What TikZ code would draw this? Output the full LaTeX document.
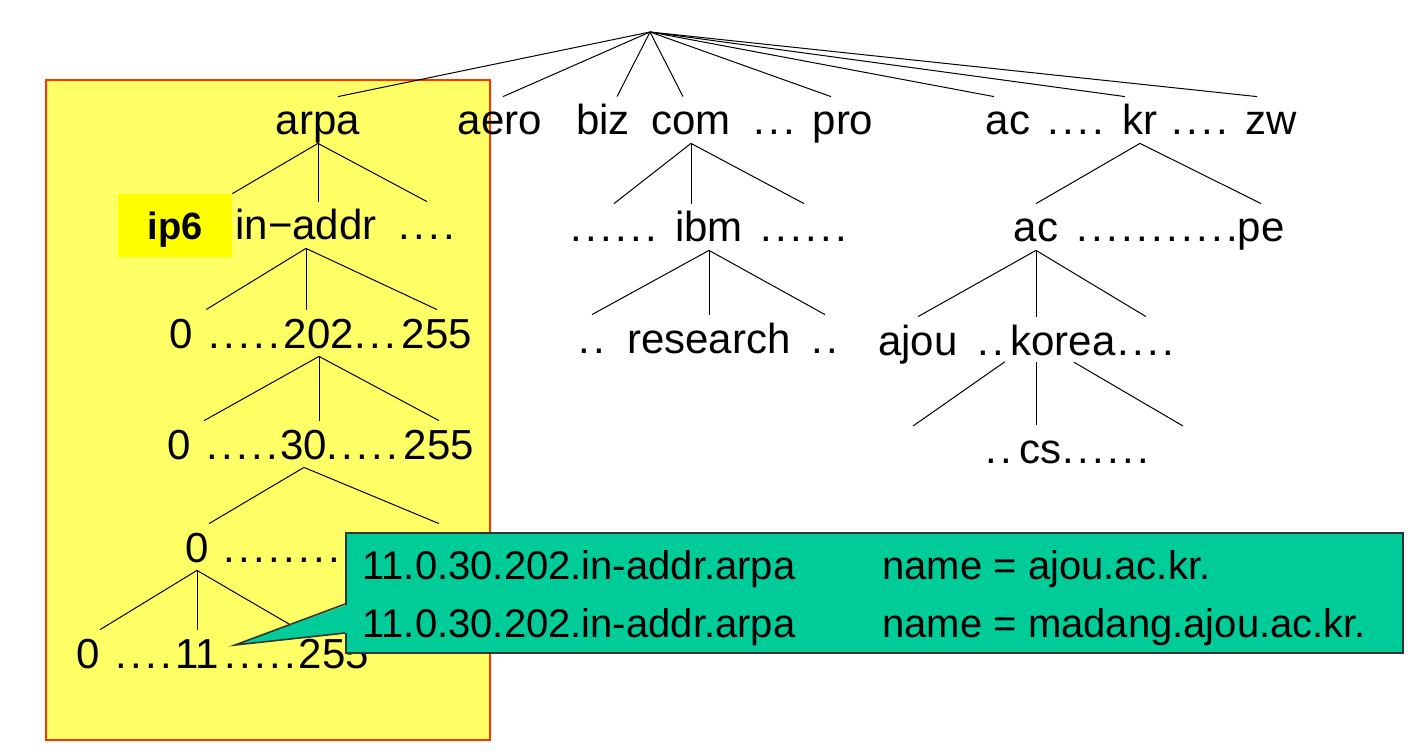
\documentclass[tikz,border=0pt]{standalone}
\usepackage{fontspec}
\setmainfont{Liberation Sans}
\definecolor{zonefill}{HTML}{FFFF66}
\definecolor{zoneline}{HTML}{FF3300}
\definecolor{ipsix}{HTML}{FFFF00}
\definecolor{notefill}{HTML}{00CC99}
\newcommand\dts[1]{\foreach \i in {1,...,#1}{\makebox[7.5pt]{.}}}
\begin{document}
\begin{tikzpicture}[x=0.5pt, y=-0.5pt,
  lbl/.style={anchor=base, inner sep=0pt, text height=19pt, text depth=4pt, font=\fontsize{21}{25}\selectfont},
  br/.style={line width=0.5pt},
  notetext/.style={anchor=base west, inner sep=0pt, font=\fontsize{20}{24}\selectfont}]
\useasboundingbox (0,0) rectangle (1424,754);
% reverse zone
\draw[fill=zonefill, draw=zoneline, line width=1pt] (46,80) rectangle (490,740);
\coordinate (root) at (650,32);
% top level domains
\node[lbl] (arpa) at (318,135) {arpa};
\node[lbl] (aero) at (500,135) {aero};
\node[lbl] (biz) at (603,135) {biz};
\node[lbl] (com) at (691,135) {com};
\node[lbl] (comdots) at (774,135) {\dts{3}};
\node[lbl] (pro) at (843,135) {pro};
\node[lbl] (ac) at (1008,135) {ac};
\node[lbl] (acdots) at (1076,135) {\dts{4}};
\node[lbl] (kr) at (1140,135) {kr};
\node[lbl] (krdots) at (1200,135) {\dts{4}};
\node[lbl] (zw) at (1271,135) {zw};
\foreach \n/\s in {arpa/10pt, aero/1.5pt, biz/7pt, com/-4pt, pro/-6pt, ac/-7pt, kr/-7.5pt, zw/-7pt}
  \draw[br] (root) -- ([xshift=\s]\n.north);
% arpa
\node[lbl, fill=ipsix, minimum width=57pt, text height=23pt, text depth=8.5pt, font=\fontsize{19}{23}\selectfont\bfseries] (ip6) at (175,240) {ip6};
\node[lbl] (inaddr) at (306,240) {in−addr};
\node[lbl] (adots) at (427,240) {\dts{4}};
\draw[br] (arpa.south) -- (ip6.north east);
\draw[br] (arpa.south) -- (arpa.south |- inaddr.north);
\draw[br] (arpa.south) -- (adots.north);
% first octet
\node[lbl] (z3) at (181,348) {0};
\node[lbl] (d3a) at (244,348) {\dts{5}};
\node[lbl] (n202) at (319,348) {202};
\node[lbl] (d3b) at (375,348) {\dts{3}};
\node[lbl] (f3) at (437,348) {255};
\draw[br] (inaddr.south) -- (d3a.north west);
\draw[br] (inaddr.south) -- (inaddr.south |- n202.north);
\draw[br] (inaddr.south) -- (f3.north);
% second octet
\node[lbl] (z4) at (179,459) {0};
\node[lbl] (d4a) at (242,459) {\dts{5}};
\node[lbl] (n30) at (304,459) {30};
\node[lbl] (d4b) at (362,459) {\dts{5}};
\node[lbl] (f4) at (439,459) {255};
\draw[br] (n202.south) -- (d4a.north west);
\draw[br] (n202.south) -- (n202.south |- n30.north);
\draw[br] (n202.south) -- (f4.north);
% third octet
\node[lbl] (z5) at (197,562) {0};
\node[lbl] (d5) at (312,562) {\dts{12}};
\node[lbl] (f5) at (439,562) {255};
\draw[br] (n30.south) -- (z5.north east);
\draw[br] (n30.south) -- (f5.north);
% fourth octet
\node[lbl] (z6) at (88,668) {0};
\node[lbl] (d6a) at (144,668) {\dts{4}};
\node[lbl] (n11) at (197,668) {11};
\node[lbl] (d6b) at (260,668) {\dts{5}};
\node[lbl] (f6) at (334,668) {255};
\draw[br] (z5.south) -- (z6.north east);
\draw[br] (z5.south) -- (z5.south |- n11.north);
\draw[br] (z5.south) -- (f6.north west);
% com
\node[lbl] (ldots) at (614,242) {\dts{6}};
\node[lbl] (ibm) at (709,242) {ibm};
\node[lbl] (rdots) at (804,242) {\dts{6}};
\draw[br] (com.south) -- (ldots.north);
\draw[br] (com.south) -- (com.south |- ibm.north);
\draw[br] (com.south) -- (rdots.north);
\node[lbl] (rsl) at (592,353) {\dts{2}};
\node[lbl] (research) at (709,353) {research};
\node[lbl] (rsr) at (825,353) {\dts{2}};
\draw[br] (ibm.south) -- (rsl.north);
\draw[br] (ibm.south) -- (ibm.south |- research.north);
\draw[br] (ibm.south) -- (rsr.north);
% kr
\node[lbl] (kac) at (1036,242) {ac};
\node[lbl] (kdots) at (1157,242) {\dts{11}};
\node[lbl] (pe) at (1261,242) {pe};
\draw[br] (kr.south) -- (kac.north);
\draw[br] (kr.south) -- (pe.north);
\node[lbl] (ajou) at (918,355) {ajou};
\node[lbl] (kal) at (991,355) {\dts{2}};
\node[lbl] (korea) at (1063,355) {korea};
\node[lbl] (kar) at (1146,355) {\dts{4}};
\draw[br] (kac.south) -- (ajou.north);
\draw[br] (kac.south) -- (kac.south |- korea.north);
\draw[br] (kac.south) -- (kar.north);
\node[lbl] (csl) at (999,463) {\dts{2}};
\node[lbl] (cs) at (1040,463) {cs};
\node[lbl] (csr) at (1106,463) {\dts{6}};
\coordinate (kapex) at (kac.south |- korea.center);
\coordinate (kleft) at (913,426);
\coordinate (kright) at (1183,426);
\draw[br, shorten <=19pt] (kapex) -- (kleft);
\draw[br, shorten <=11pt] (kapex) -- (kapex |- cs.north);
\draw[br, shorten <=22pt] (kapex) -- (kright);
% PTR answer
\node[draw=black!80, fill=notefill, line width=0.8pt, minimum width=528.5pt, minimum height=60pt, inner sep=0pt] (note) at (874.5,593) {};
\coordinate (tip) at (235,645);
\fill[notefill] ([xshift=2pt,yshift=-5.5pt]note.west) -- (tip) -- ([xshift=2pt,yshift=-20pt]note.west) -- cycle;
\draw[black!80, line width=0.8pt] ([yshift=-5.5pt]note.west) -- (tip) -- ([yshift=-20pt]note.west);
\node[notetext] (ptr1) at (362,579) {11.0.30.202.in-addr.arpa};
\node[notetext] (nm1) at (882,579) {name = ajou.ac.kr.};
\node[notetext] (ptr2) at (362,637) {11.0.30.202.in-addr.arpa};
\node[notetext] (nm2) at (882,637) {name = madang.ajou.ac.kr.};
\end{tikzpicture}
\end{document}
